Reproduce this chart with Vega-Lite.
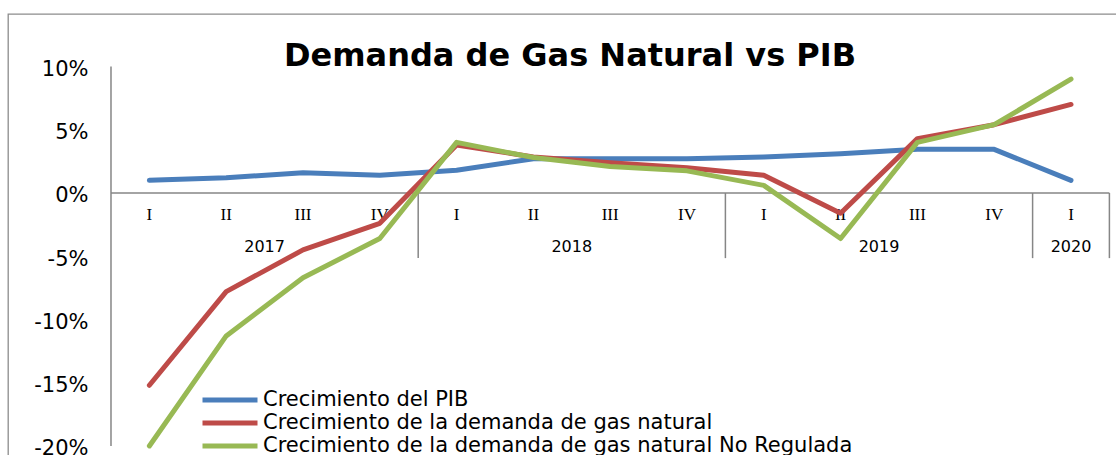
{
  "$schema": "https://vega.github.io/schema/vega-lite/v6.json",
  "width": 1112,
  "height": 446,
  "padding": {"left": 8, "top": 14, "right": 0, "bottom": 0},
  "autosize": {"type": "pad"},
  "background": "white",
  "title": {"text": "Demanda de Gas Natural vs PIB", "font": "DejaVu Sans", "fontSize": 32, "fontWeight": "bold", "color": "black", "anchor": "middle", "frame": "group", "offset": -59, "dx": 6},
  "config": {"view": {"stroke": "#8c8c8c", "strokeWidth": 1.3}, "font": "DejaVu Sans"},
  "datasets": {
    "series": [
      {"i": 0, "serie": "Crecimiento del PIB", "v": 1.0},
      {"i": 1, "serie": "Crecimiento del PIB", "v": 1.2},
      {"i": 2, "serie": "Crecimiento del PIB", "v": 1.6},
      {"i": 3, "serie": "Crecimiento del PIB", "v": 1.4},
      {"i": 4, "serie": "Crecimiento del PIB", "v": 1.8},
      {"i": 5, "serie": "Crecimiento del PIB", "v": 2.7},
      {"i": 6, "serie": "Crecimiento del PIB", "v": 2.7},
      {"i": 7, "serie": "Crecimiento del PIB", "v": 2.7},
      {"i": 8, "serie": "Crecimiento del PIB", "v": 2.85},
      {"i": 9, "serie": "Crecimiento del PIB", "v": 3.1},
      {"i": 10, "serie": "Crecimiento del PIB", "v": 3.45},
      {"i": 11, "serie": "Crecimiento del PIB", "v": 3.45},
      {"i": 12, "serie": "Crecimiento del PIB", "v": 1.0},
      {"i": 0, "serie": "Crecimiento de la demanda de gas natural", "v": -15.2},
      {"i": 1, "serie": "Crecimiento de la demanda de gas natural", "v": -7.8},
      {"i": 2, "serie": "Crecimiento de la demanda de gas natural", "v": -4.5},
      {"i": 3, "serie": "Crecimiento de la demanda de gas natural", "v": -2.4},
      {"i": 4, "serie": "Crecimiento de la demanda de gas natural", "v": 3.8},
      {"i": 5, "serie": "Crecimiento de la demanda de gas natural", "v": 2.85},
      {"i": 6, "serie": "Crecimiento de la demanda de gas natural", "v": 2.4},
      {"i": 7, "serie": "Crecimiento de la demanda de gas natural", "v": 2.0},
      {"i": 8, "serie": "Crecimiento de la demanda de gas natural", "v": 1.4},
      {"i": 9, "serie": "Crecimiento de la demanda de gas natural", "v": -1.6},
      {"i": 10, "serie": "Crecimiento de la demanda de gas natural", "v": 4.3},
      {"i": 11, "serie": "Crecimiento de la demanda de gas natural", "v": 5.4},
      {"i": 12, "serie": "Crecimiento de la demanda de gas natural", "v": 7.0},
      {"i": 0, "serie": "Crecimiento de la demanda de gas natural No Regulada", "v": -20.0},
      {"i": 1, "serie": "Crecimiento de la demanda de gas natural No Regulada", "v": -11.3},
      {"i": 2, "serie": "Crecimiento de la demanda de gas natural No Regulada", "v": -6.7},
      {"i": 3, "serie": "Crecimiento de la demanda de gas natural No Regulada", "v": -3.6},
      {"i": 4, "serie": "Crecimiento de la demanda de gas natural No Regulada", "v": 4.0},
      {"i": 5, "serie": "Crecimiento de la demanda de gas natural No Regulada", "v": 2.8},
      {"i": 6, "serie": "Crecimiento de la demanda de gas natural No Regulada", "v": 2.1},
      {"i": 7, "serie": "Crecimiento de la demanda de gas natural No Regulada", "v": 1.75},
      {"i": 8, "serie": "Crecimiento de la demanda de gas natural No Regulada", "v": 0.6},
      {"i": 9, "serie": "Crecimiento de la demanda de gas natural No Regulada", "v": -3.6},
      {"i": 10, "serie": "Crecimiento de la demanda de gas natural No Regulada", "v": 4.0},
      {"i": 11, "serie": "Crecimiento de la demanda de gas natural No Regulada", "v": 5.4},
      {"i": 12, "serie": "Crecimiento de la demanda de gas natural No Regulada", "v": 9.0}
    ],
    "quarters": [
      {"i": 0, "q": "I"}, {"i": 1, "q": "II"}, {"i": 2, "q": "III"}, {"i": 3, "q": "IV"},
      {"i": 4, "q": "I"}, {"i": 5, "q": "II"}, {"i": 6, "q": "III"}, {"i": 7, "q": "IV"},
      {"i": 8, "q": "I"}, {"i": 9, "q": "II"}, {"i": 10, "q": "III"}, {"i": 11, "q": "IV"},
      {"i": 12, "q": "I"}
    ],
    "years": [
      {"c": 1.5, "year": "2017"}, {"c": 5.5, "year": "2018"}, {"c": 9.5, "year": "2019"}, {"c": 12, "year": "2020"}
    ],
    "seps": [{"s": 3.5}, {"s": 7.5}, {"s": 11.5}, {"s": 12.5}],
    "one": [{}]
  },
  "layer": [
    {
      "data": {"name": "one"},
      "mark": {"type": "rule", "color": "#868686", "strokeWidth": 1.5},
      "encoding": {
        "x": {"datum": -0.5, "type": "quantitative", "scale": {"domain": [-1.841, 12.638], "nice": false, "zero": false}, "axis": null},
        "y": {"datum": 10, "type": "quantitative", "scale": {"domain": [-21.11, 14.15], "nice": false, "zero": false}, "axis": {"values": [-20, -15, -10, -5, 0, 5, 10], "labelExpr": "datum.value + '%'", "domain": false, "ticks": false, "tickSize": 0, "grid": false, "labelFont": "DejaVu Sans", "labelFontSize": 21, "labelColor": "black", "labelPadding": 23, "labelOffset": 3, "offset": -103, "title": null}},
        "y2": {"datum": -20}
      }
    },
    {
      "data": {"name": "one"},
      "mark": {"type": "rule", "color": "#868686", "strokeWidth": 1.5},
      "encoding": {
        "x": {"datum": -0.5, "type": "quantitative"},
        "x2": {"datum": 12.5},
        "y": {"datum": 0, "type": "quantitative"}
      }
    },
    {
      "data": {"name": "seps"},
      "mark": {"type": "rule", "color": "#868686", "strokeWidth": 1.5},
      "encoding": {
        "x": {"field": "s", "type": "quantitative"},
        "y": {"datum": 0, "type": "quantitative"},
        "y2": {"datum": -5.15}
      }
    },
    {
      "data": {"name": "quarters"},
      "mark": {"type": "text", "font": "Liberation Serif", "fontSize": 17, "color": "black", "dy": 22, "baseline": "middle", "align": "center"},
      "encoding": {
        "x": {"field": "i", "type": "quantitative"},
        "y": {"datum": 0, "type": "quantitative"},
        "text": {"field": "q"}
      }
    },
    {
      "data": {"name": "years"},
      "mark": {"type": "text", "font": "DejaVu Sans", "fontSize": 16, "color": "black", "dy": 54, "baseline": "middle", "align": "center"},
      "encoding": {
        "x": {"field": "c", "type": "quantitative"},
        "y": {"datum": 0, "type": "quantitative"},
        "text": {"field": "year"}
      }
    },
    {
      "data": {"name": "series"},
      "mark": {"type": "line", "strokeWidth": 5, "strokeCap": "round", "strokeJoin": "round"},
      "encoding": {
        "x": {"field": "i", "type": "quantitative"},
        "y": {"field": "v", "type": "quantitative"},
        "color": {
          "field": "serie", "type": "nominal",
          "scale": {"domain": ["Crecimiento del PIB", "Crecimiento de la demanda de gas natural", "Crecimiento de la demanda de gas natural No Regulada"], "range": ["#4A7EBB", "#BE4B48", "#98B954"]},
          "legend": {"title": null, "orient": "none", "legendX": 209.5, "legendY": 373.5, "symbolType": "M-2.75,0H2.75", "symbolSize": 400, "symbolStrokeWidth": 5, "labelFont": "DejaVu Sans", "labelFontSize": 21, "labelColor": "black", "rowPadding": -1, "labelOffset": 20.5, "padding": 0, "labelLimit": 1000}
        }
      }
    }
  ]
}
